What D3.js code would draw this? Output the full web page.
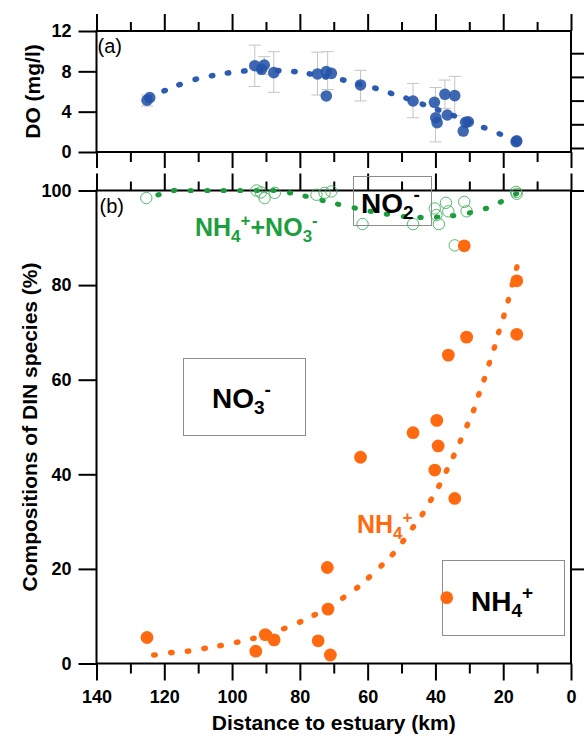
<!DOCTYPE html>
<html><head><meta charset="utf-8">
<script src="https://cdn.jsdelivr.net/npm/d3@7"></script>
<style>body{margin:0;background:#fff}svg{display:block}</style>
</head><body><svg id="c" width="584" height="736"></svg>
<script>
// ---------- DATA ----------
const xMajor = [140,120,100,80,60,40,20,0];
const xMinor = [130,110,90,70,50,30,10];
const yATicks = [0,4,8,12];
const yBTicks = [0,20,40,60,80,100];

// Panel (a) DO observations
const doKm  = [125.1,124.3,93.3,91.3,90.5,87.7,74.8,72.2,72.2,70.7,62.1,46.6,40.3,39.9,39.5,37.2,36.5,34.3,31.1,30.3,31.8,16.2,16.0];
const doVal = [5.13,5.39,8.56,8.2,8.63,7.87,7.74,7.97,5.56,7.8,6.65,5.06,4.93,3.4,2.91,5.72,3.67,5.59,2.94,3.0,2.08,1.02,1.1];
// DO error bars
const errKm = [125.1,93.3,90.5,87.7,74.8,71.8,62.1,46.6,40.0,37.2,34.3];
const errLo = [4.56,6.5,7.7,5.92,5.65,6.2,5.06,3.4,1.0,4.33,3.6];
const errHi = [5.65,10.6,9.45,9.95,9.9,9.95,8.1,6.8,6.4,7.14,7.5];
// DO fitted (dotted) curve
const doFitKm  = [124.7,119.9,115.5,110.7,105.9,101.2,96.4,91.6,86.4,81.6,77,72.4,67.2,62.5,57.7,53.1,48.5,43.7,39.2,34.6,30,25.6,21,16.2];
const doFitVal = [5.4,6.08,6.68,7.21,7.57,7.84,8.04,8.1,8.07,7.97,7.74,7.45,7.14,6.72,6.32,5.82,5.32,4.73,4.17,3.6,3.0,2.41,1.79,1.05];

// Panel (b) NH4+ + NO3- (open circles)
const dinKm  = [125.3,92.8,91.5,90.4,87.4,75.1,72.7,70.7,61.5,46.6,40.2,39.7,39.0,36.9,36.2,31.5,30.8,34.3,16.2,16.0];
const dinVal = [98.4,100,99.6,98.4,99.5,99.1,99.5,99.8,92.9,92.9,96.2,94.8,92.9,97.4,95.6,97.6,95.6,88.4,99.7,99.3];
const dinFitKm  = [121.7,117.1,112.2,107.3,102.5,97.6,92.7,87.8,82.9,78.3,73.3,68.7,63.8,59.1,54.3,49.3,44.4,39.5,34.8,29.8,25.1,20.7,16.2];
const dinFitVal = [99.1,100,100,100,100,100,100,100,99.5,98.8,97.9,97.1,96.3,95.6,95.0,94.5,94.3,94.4,94.7,95.3,96.2,97.6,99.3];

// Panel (b) NH4+ (orange)
const nh4Km  = [125.1,93,90.2,87.6,74.6,71,71.7,71.9,62.1,46.6,39.6,39.2,40.2,34.3,36.2,30.8,31.5,16.0,16.0];
const nh4Val = [5.5,2.6,6.1,5.0,4.8,1.8,11.5,20.3,43.6,48.8,51.4,46.0,40.9,34.9,65.2,69.0,88.3,80.9,69.6];
const nh4FitKm  = [122.9,117.9,113,108.1,103.4,98.5,93.7,89.2,84.6,79.9,75.6,71.3,67.2,63.1,59.6,55.9,52.6,49.5,46.6,43.8,41.3,38.9,36.7,34.6,32.6,30.6,28.7,27.2,25.6,24.1,22.6,21.3,19.8,18.5,17.3,16.0];
const nh4FitVal = [1.8,2.3,2.6,3.2,3.8,4.5,5.3,6.3,7.4,8.8,10.3,12.0,13.9,16.0,18.2,20.7,23.1,25.9,28.8,31.6,34.6,37.6,40.8,43.9,47.1,50.4,53.6,56.9,60.1,63.5,66.8,70.1,73.5,76.8,80.2,83.7];

// ---------- STYLE ----------
const FONT = "'Liberation Sans', Arial, Helvetica, sans-serif";
const BLUE = "#2453a8", GREEN = "#1a9b3c", GREENC = "#3aad57", ORANGE = "#ff6a10";

const svg = d3.select("#c");
const x  = d3.scaleLinear().domain([140,0]).range([96.5,571]);
const yA = d3.scaleLinear().domain([0,12]).range([152,31]);
const yB = d3.scaleLinear().domain([0,100]).range([663.5,190.5]);
const yR = d3.scaleLinear().domain([0,5]).range([148,29.5]);

function axisG(gen, tr, fs) {
  const g = svg.append("g").attr("transform", tr).call(gen);
  g.select(".domain").remove();
  g.selectAll("line").attr("stroke", "#000").attr("stroke-width", 2);
  g.selectAll("text").attr("font-family", FONT).attr("font-weight", "bold")
    .attr("font-size", fs || 18).attr("fill", "#000");
  return g;
}

// frames
svg.append("rect").attr("x", x(140)).attr("y", yA(12)).attr("width", x(0)-x(140)).attr("height", yA(0)-yA(12))
  .attr("fill", "none").attr("stroke", "#000").attr("stroke-width", 2);
svg.append("rect").attr("x", x(140)).attr("y", yB(100)).attr("width", x(0)-x(140)).attr("height", yB(0)-yB(100))
  .attr("fill", "none").attr("stroke", "#000").attr("stroke-width", 2);

// panel a x ticks (top & bottom)
axisG(d3.axisTop(x).tickValues(xMajor).tickSize(17).tickFormat(""), `translate(0,${yA(12)})`);
axisG(d3.axisTop(x).tickValues(xMinor).tickSize(9).tickFormat(""), `translate(0,${yA(12)})`);
axisG(d3.axisBottom(x).tickValues(xMajor).tickSize(16).tickFormat(""), `translate(0,${yA(0)})`);
axisG(d3.axisBottom(x).tickValues(xMinor).tickSize(10).tickFormat(""), `translate(0,${yA(0)})`);
// panel b x ticks
axisG(d3.axisTop(x).tickValues(xMajor).tickSize(17).tickFormat(""), `translate(0,${yB(100)})`);
axisG(d3.axisTop(x).tickValues(xMinor).tickSize(9).tickFormat(""), `translate(0,${yB(100)})`);
axisG(d3.axisBottom(x).tickValues(xMajor).tickSize(17).tickPadding(10), `translate(0,${yB(0)})`);
axisG(d3.axisBottom(x).tickValues(xMinor).tickSize(10).tickFormat(""), `translate(0,${yB(0)})`);

// y axes
axisG(d3.axisLeft(yA).tickValues(yATicks).tickSize(18).tickPadding(7), `translate(${x(140)},0)`);
axisG(d3.axisLeft(yB).tickValues(yBTicks).tickSize(18).tickPadding(7), `translate(${x(140)},0)`);
axisG(d3.axisRight(yR).tickValues([0,1,2,3,4]).tickSize(14).tickFormat(""), `translate(${x(0)},0)`);
axisG(d3.axisRight(yB).tickValues([20,100]).tickSize(14).tickFormat(""), `translate(${x(0)},0)`);

// axis titles
svg.append("text").attr("transform", `translate(40,${(yA(0)+yA(12))/2}) rotate(-90)`)
  .attr("text-anchor", "middle").attr("font-family", FONT).attr("font-weight", "bold").attr("font-size", 21)
  .text("DO (mg/l)");
svg.append("text").attr("transform", `translate(37,${(yB(0)+yB(100))/2}) rotate(-90)`)
  .attr("text-anchor", "middle").attr("font-family", FONT).attr("font-weight", "bold").attr("font-size", 21)
  .text("Compositions of DIN species (%)");
svg.append("text").attr("x", (x(140)+x(0))/2).attr("y", 730)
  .attr("text-anchor", "middle").attr("font-family", FONT).attr("font-weight", "bold").attr("font-size", 21)
  .text("Distance to estuary (km)");

// panel letters
svg.append("text").attr("x", x(140)+1).attr("y", yA(12)+22).attr("font-family", FONT).attr("font-size", 20).text("(a)");
svg.append("text").attr("x", x(140)+3).attr("y", yB(100)+22).attr("font-family", FONT).attr("font-size", 20).text("(b)");

// legend boxes (outline)
const boxes = [[353.5,176.5,78,49],[183.5,358.5,122,77],[442.5,560.5,122,75]];
svg.selectAll("rect.box").data(boxes).join("rect").attr("class","box")
  .attr("x", d=>d[0]).attr("y", d=>d[1]).attr("width", d=>d[2]).attr("height", d=>d[3])
  .attr("fill", "none").attr("stroke", "#8c8c8c").attr("stroke-width", 1);

// dotted fit helper: small ellipses oriented along the curve
function fitDots(kms, vals, ys, color, rx, ry) {
  const pts = kms.map((k,i)=>[x(k), ys(vals[i])]);
  svg.append("g").selectAll("ellipse").data(pts).join("ellipse")
    .attr("cx", d=>d[0]).attr("cy", d=>d[1]).attr("rx", rx).attr("ry", ry).attr("fill", color)
    .attr("transform", (d,i)=>{
      const a = pts[Math.max(0,i-1)], b = pts[Math.min(pts.length-1,i+1)];
      const ang = Math.atan2(b[1]-a[1], b[0]-a[0])*180/Math.PI;
      return `rotate(${ang},${d[0]},${d[1]})`;
    });
}

// panel a: error bars
const eb = svg.append("g").attr("stroke", "#c4c4c4").attr("stroke-width", 1);
errKm.forEach((k,i)=>{
  eb.append("line").attr("x1", x(k)).attr("x2", x(k)).attr("y1", yA(errLo[i])).attr("y2", yA(errHi[i]));
  eb.append("line").attr("x1", x(k)-6).attr("x2", x(k)+6).attr("y1", yA(errLo[i])).attr("y2", yA(errLo[i]));
  eb.append("line").attr("x1", x(k)-6).attr("x2", x(k)+6).attr("y1", yA(errHi[i])).attr("y2", yA(errHi[i]));
});
fitDots(doFitKm, doFitVal, yA, "#2c5cb0", 3.5, 2.8);
svg.append("g").selectAll("circle").data(doKm).join("circle")
  .attr("cx", d=>x(d)).attr("cy", (d,i)=>yA(doVal[i])).attr("r", 5.8)
  .attr("fill", BLUE).attr("fill-opacity", 0.88);

// panel b: NH4+ + NO3-
fitDots(dinFitKm, dinFitVal, yB, GREEN, 3.2, 2.6);
svg.append("g").selectAll("circle").data(dinKm).join("circle")
  .attr("cx", d=>x(d)).attr("cy", (d,i)=>yB(dinVal[i])).attr("r", 5.7)
  .attr("fill", "none").attr("stroke", GREENC).attr("stroke-width", 1).attr("stroke-opacity", 0.85);

// panel b: NH4+
fitDots(nh4FitKm, nh4FitVal, yB, ORANGE, 3.5, 2.8);
svg.append("g").selectAll("circle").data(nh4Km).join("circle")
  .attr("cx", d=>x(d)).attr("cy", (d,i)=>yB(nh4Val[i])).attr("r", 6.4)
  .attr("fill", ORANGE);

// legend marker in NH4+ box
svg.append("circle").attr("cx", 446.7).attr("cy", 597.7).attr("r", 6.4).attr("fill", ORANGE);

// chemical-formula labels
function chem(xp, yp, parts, size, color) {
  const t = svg.append("text").attr("x", xp).attr("y", yp).attr("font-family", FONT)
    .attr("font-weight", "bold").attr("font-size", size).attr("fill", color);
  let cur = 0;
  parts.forEach(([txt, kind])=>{
    const target = kind==="sub" ? size*0.22 : kind==="sup" ? -size*0.42 : 0;
    t.append("tspan").attr("dy", target-cur).attr("font-size", kind==="n" ? size : size*0.68).text(txt);
    cur = target;
  });
}
chem(195, 236, [["NH","n"],["4","sub"],["+","sup"],["+NO","n"],["3","sub"],["-","sup"]], 25, "#1f9e40");
chem(357, 533, [["NH","n"],["4","sub"],["+","sup"]], 25, ORANGE);
chem(361, 213, [["NO","n"],["2","sub"],["-","sup"]], 28, "#000");
chem(212, 408, [["NO","n"],["3","sub"],["-","sup"]], 28, "#000");
chem(471, 611, [["NH","n"],["4","sub"],["+","sup"]], 28, "#000");
</script></body></html>
